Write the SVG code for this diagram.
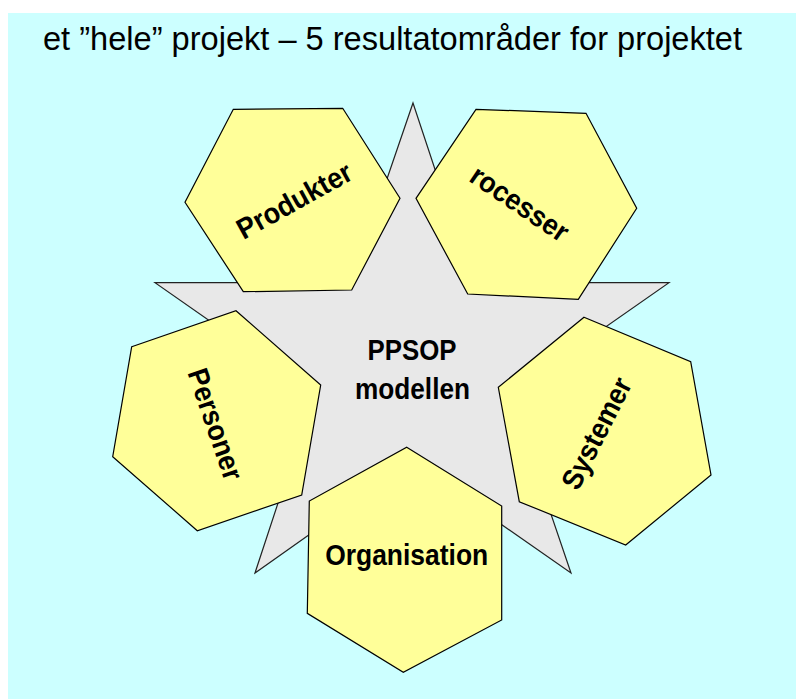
<svg xmlns="http://www.w3.org/2000/svg" width="796" height="699" viewBox="0 0 796 699">
<style>
.hex{fill:#FFFF99;stroke:#000;stroke-width:1.2;stroke-linejoin:miter}
.star{fill:#E8E8E8;stroke:#222;stroke-width:1.2}
.lbl{font-family:"Liberation Sans",Arial,sans-serif;font-weight:bold;font-size:29px;fill:#000;text-anchor:middle}
.title{font-family:"Liberation Sans",Arial,sans-serif;font-size:32.6px;fill:#000}
</style>
<rect x="0" y="0" width="796" height="699" fill="#FFFFFF"/>
<rect x="8" y="13" width="788" height="686" fill="#CCFFFF"/>
<text class="title" x="43" y="50" textLength="699" lengthAdjust="spacingAndGlyphs">et ”hele” projekt – 5 resultatområder for projektet</text>
<g id="star">
<polygon class="star" points="413,103 472.6,282.7 669,282.7 510,393.7 571,573 412,462 255,573 314,393.7 155,282.7 351.4,282.7"/>
<text class="lbl" x="412" y="359.5" textLength="89" lengthAdjust="spacingAndGlyphs">PPSOP</text>
<text class="lbl" x="412.5" y="398.5" textLength="115" lengthAdjust="spacingAndGlyphs">modellen</text>
</g>
<g id="connectors"></g>
<g id="produkter">
<polygon class="hex" points="233.3,109.3 342.7,108.3 400,198.3 351.7,290 243.3,291.7 185,202.3"/>
<text class="lbl" transform="translate(294,200) rotate(-29)" x="0" y="10.5" textLength="127" lengthAdjust="spacingAndGlyphs">Produkter</text>
</g>
<g id="processer">
<polygon class="hex" points="476,109.3 586,113.3 636.7,208.3 578.3,299.3 467.7,294 416,198.3"/>
<text class="lbl" transform="translate(520,203) rotate(34)" x="0" y="10.5" textLength="112" lengthAdjust="spacingAndGlyphs">rocesser</text>
</g>
<g id="personer">
<polygon class="hex" points="131.7,346.7 236,310.7 320.7,385 301.7,495 197.3,530.7 112.7,456.7"/>
<text class="lbl" transform="translate(216,424) rotate(71)" x="0" y="10.5" textLength="116" lengthAdjust="spacingAndGlyphs">Personer</text>
</g>
<g id="systemer">
<polygon class="hex" points="584,317.3 690.7,361.7 711,475 625.7,545 519.3,501.7 498.3,387.3"/>
<text class="lbl" transform="translate(596,433) rotate(-63)" x="0" y="10.5" textLength="121" lengthAdjust="spacingAndGlyphs">Systemer</text>
</g>
<g id="organisation">
<polygon class="hex" points="406.7,447.3 501.7,506 501.7,620 403.3,672.3 307.3,613.3 309.3,501"/>
<text class="lbl" x="406.7" y="564.5" textLength="163" lengthAdjust="spacingAndGlyphs">Organisation</text>
</g>
</svg>
